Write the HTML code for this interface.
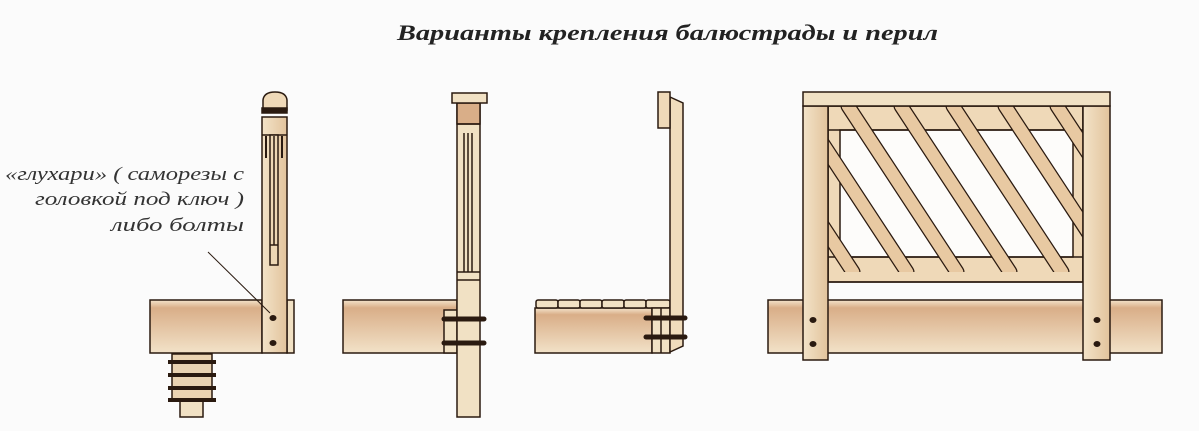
<!DOCTYPE html>
<html><head><meta charset="utf-8"><style>
html,body{margin:0;padding:0;background:#fbfbfb;}
svg{display:block;}
</style></head><body>
<svg width="1199" height="431" viewBox="0 0 1199 431" xmlns="http://www.w3.org/2000/svg">
<defs>
<linearGradient id="beam" x1="0" y1="0" x2="0" y2="1">
<stop offset="0" stop-color="#f4e4cc"/><stop offset="0.15" stop-color="#d9ae88"/><stop offset="1" stop-color="#f2e2c8"/>
</linearGradient>
<linearGradient id="post" x1="0" y1="0" x2="1" y2="0">
<stop offset="0" stop-color="#f3e3c8"/><stop offset="1" stop-color="#e2c39c"/>
</linearGradient>
<clipPath id="cp"><rect x="828" y="106" width="255" height="166"/></clipPath>
</defs>
<rect width="1199" height="431" fill="#fbfbfb"/>
<text x="397" y="40" font-family="Liberation Serif, serif" font-style="italic" font-weight="bold" font-size="22" fill="#222" textLength="541" lengthAdjust="spacingAndGlyphs">Варианты крепления балюстрады и перил</text>
<g font-family="Liberation Serif, serif" font-style="italic" font-size="19" fill="#333" text-anchor="end" lengthAdjust="spacingAndGlyphs">
<text x="244" y="180" textLength="239" lengthAdjust="spacingAndGlyphs">«глухари» ( саморезы с</text>
<text x="244" y="205" textLength="209" lengthAdjust="spacingAndGlyphs">головкой под ключ )</text>
<text x="244" y="231" textLength="133" lengthAdjust="spacingAndGlyphs">либо болты</text>
</g>
<g stroke="#2a1a10" stroke-width="1.5">
<!-- Fig 1 -->
<rect x="180" y="353" width="23" height="64" fill="#f1e1c4"/>
<rect x="172" y="354" width="40" height="46" fill="#ead3b2"/>
<g fill="none" stroke-width="4" stroke="#2a1a10">
<line x1="168" y1="362" x2="216" y2="362"/><line x1="168" y1="375" x2="216" y2="375"/><line x1="168" y1="388" x2="216" y2="388"/><line x1="168" y1="400" x2="216" y2="400"/>
</g>
<rect x="150" y="300" width="112" height="53" fill="url(#beam)"/>
<rect x="287" y="300" width="7" height="53" fill="#f1e1c4"/>
<rect x="262" y="117" width="25" height="236" fill="url(#post)"/>
<path d="M263 110 L263 100 Q264 92 275 92 Q286 92 287 100 L287 110 Z" fill="#efd9b8"/>
<rect x="262" y="108" width="25" height="5" fill="#2a1a10"/>
<line x1="262" y1="135" x2="287" y2="135"/>
<rect x="270" y="135" width="8" height="130" fill="#ecd6b4"/>
<line x1="266" y1="136" x2="266" y2="158" stroke-width="2"/><line x1="282" y1="136" x2="282" y2="158" stroke-width="2"/>
<line x1="274" y1="136" x2="274" y2="245"/>
<line x1="270" y1="245" x2="278" y2="245"/>
<line x1="208" y1="252" x2="270" y2="313" stroke-width="1"/>
<!-- Fig 2 -->
<rect x="343" y="300" width="114" height="53" fill="url(#beam)"/>
<rect x="444" y="310" width="13" height="43" fill="#f1e1c4"/>
<rect x="457" y="103" width="23" height="314" fill="#f1e1c4"/>
<rect x="457" y="103" width="23" height="21" fill="#d9ae88"/>
<rect x="452" y="93" width="35" height="10" fill="#f1e1c4"/>
<line x1="457" y1="124" x2="480" y2="124"/>
<line x1="457" y1="272" x2="480" y2="272"/><line x1="457" y1="280" x2="480" y2="280"/>
<line x1="464" y1="133" x2="464" y2="272"/><line x1="468" y1="133" x2="468" y2="272"/><line x1="472" y1="133" x2="472" y2="272"/>
<g stroke-width="5" stroke-linecap="round"><line x1="444" y1="319" x2="484" y2="319"/><line x1="444" y1="343" x2="484" y2="343"/></g>
<!-- Fig 3 -->
<rect x="535" y="308" width="117" height="45" fill="url(#beam)"/>
<g fill="#f1e1c4"><rect x="536" y="300" width="22" height="8" rx="2"/><rect x="558" y="300" width="22" height="8" rx="2"/><rect x="580" y="300" width="22" height="8" rx="2"/><rect x="602" y="300" width="22" height="8" rx="2"/><rect x="624" y="300" width="22" height="8" rx="2"/><rect x="646" y="300" width="24" height="8" rx="2"/></g>
<rect x="652" y="308" width="18" height="45" fill="#f1e1c4"/>
<line x1="661" y1="308" x2="661" y2="353"/>
<path d="M670 97 L683 103 L683 346 L670 352 Z" fill="#f0dcbc"/>
<rect x="658" y="92" width="12" height="36" fill="#efd9b8"/>
<g stroke-width="5" stroke-linecap="round"><line x1="646" y1="318" x2="685" y2="318"/><line x1="646" y1="337" x2="685" y2="337"/></g>
<!-- Fig 4 -->
<rect x="768" y="300" width="394" height="53" fill="url(#beam)"/>
<rect x="828" y="106" width="255" height="176" fill="#efd9b8"/>
<rect x="840" y="130" width="233" height="127" fill="#fdfcfa"/>
<line x1="828" y1="130" x2="1083" y2="130"/><line x1="828" y1="257" x2="1083" y2="257"/>
<g clip-path="url(#cp)" stroke-linecap="round">
<g stroke="#2a1a10" stroke-width="15">
<line x1="690" y1="106" x2="799" y2="272"/><line x1="744" y1="106" x2="853" y2="272"/><line x1="798" y1="106" x2="907" y2="272"/><line x1="848" y1="106" x2="957" y2="272"/><line x1="901" y1="106" x2="1010" y2="272"/><line x1="953" y1="106" x2="1062" y2="272"/><line x1="1005" y1="106" x2="1114" y2="272"/><line x1="1057" y1="106" x2="1166" y2="272"/>
</g>
<g stroke="#e8c9a2" stroke-width="12.5">
<line x1="690" y1="106" x2="799" y2="272"/><line x1="744" y1="106" x2="853" y2="272"/><line x1="798" y1="106" x2="907" y2="272"/><line x1="848" y1="106" x2="957" y2="272"/><line x1="901" y1="106" x2="1010" y2="272"/><line x1="953" y1="106" x2="1062" y2="272"/><line x1="1005" y1="106" x2="1114" y2="272"/><line x1="1057" y1="106" x2="1166" y2="272"/>
</g>
</g>
<rect x="828" y="106" width="255" height="176" fill="none"/>
<rect x="803" y="106" width="25" height="254" fill="url(#post)"/>
<rect x="1083" y="106" width="27" height="254" fill="url(#post)"/>
<rect x="803" y="92" width="307" height="14" fill="#f1e1c4"/>
</g>
<g fill="#2a1a10">
<ellipse cx="273" cy="318" rx="3.5" ry="3"/><ellipse cx="273" cy="343" rx="3.5" ry="3"/>
<ellipse cx="813" cy="320" rx="3.5" ry="3"/><ellipse cx="813" cy="344" rx="3.5" ry="3"/>
<ellipse cx="1097" cy="320" rx="3.5" ry="3"/><ellipse cx="1097" cy="344" rx="3.5" ry="3"/>
</g>
</svg>
</body></html>
